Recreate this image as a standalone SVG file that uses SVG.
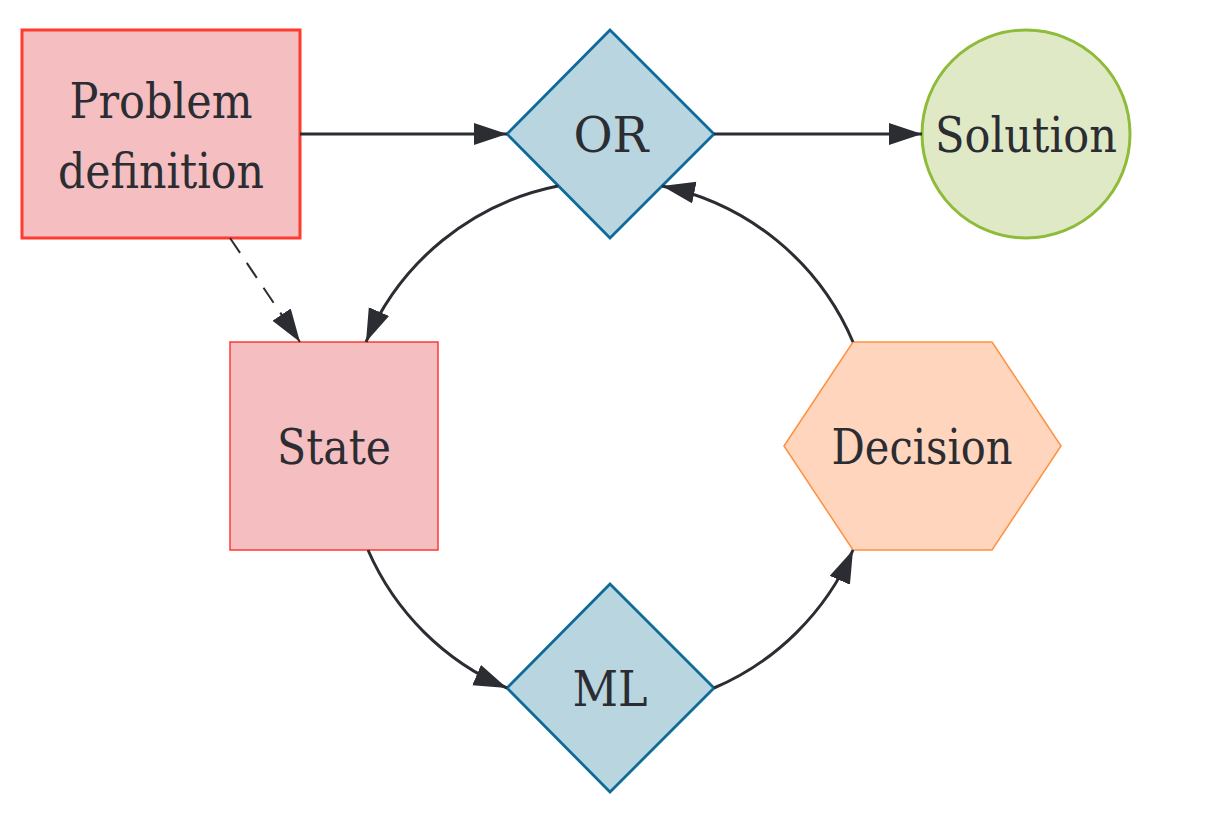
<svg xmlns="http://www.w3.org/2000/svg" width="1213" height="818" viewBox="0 0 1213 818">
<style>
.lbl{font-family:'DejaVu Serif',serif;font-size:48px;fill:#2b2d33;text-anchor:middle}
.edge{fill:none;stroke:#2b2d33;stroke-width:3}
.dash{stroke-dasharray:18 12;stroke-width:2}
.red{fill:#f5bec0;stroke:#ff3a2f}
.blue{fill:#b8d5e0;stroke:#0e6a9a;stroke-width:2.8}
</style>
<defs>
<marker id="ah" markerUnits="userSpaceOnUse" markerWidth="35" markerHeight="24" refX="33" refY="11" orient="auto" viewBox="0 0 35 24">
<path d="M0,0 L33,11 L0,22 z" fill="#2b2d33"/>
</marker>
</defs>
<rect width="1213" height="818" fill="#ffffff"/>
<g id="problem">
<rect class="red" x="22" y="30" width="278" height="208" stroke-width="3"/>
<text class="lbl" x="161" y="118" textLength="183" lengthAdjust="spacingAndGlyphs">Problem</text>
<text class="lbl" x="161" y="188" textLength="206" lengthAdjust="spacingAndGlyphs">definition</text>
</g>
<g id="or">
<polygon class="blue" points="610,30 714,134 610,238 507,134"/>
<text class="lbl" x="611" y="152" textLength="75" lengthAdjust="spacingAndGlyphs">OR</text>
</g>
<g id="solution">
<circle cx="1026" cy="134" r="104" fill="#e0e9c5" stroke="#8fbb3a" stroke-width="3"/>
<text class="lbl" x="1026" y="152" textLength="182" lengthAdjust="spacingAndGlyphs">Solution</text>
</g>
<g id="state">
<rect class="red" x="230" y="342" width="208" height="208" stroke-width="1.5"/>
<text class="lbl" x="334" y="464" textLength="114" lengthAdjust="spacingAndGlyphs">State</text>
</g>
<g id="decision">
<polygon points="784,446 853,342 992,342 1061,446 992,550 853,550" fill="#ffd5bd" stroke="#ff9040" stroke-width="1.5"/>
<text class="lbl" x="922" y="464" textLength="181" lengthAdjust="spacingAndGlyphs">Decision</text>
</g>
<g id="ml">
<polygon class="blue" points="610,584 714,688 610,792 507,688"/>
<text class="lbl" x="610" y="706" textLength="75" lengthAdjust="spacingAndGlyphs">ML</text>
</g>
<g id="connectors">
<path class="edge" d="M300,134 L507,134" marker-end="url(#ah)"/>
<path class="edge" d="M714,134 L922,134" marker-end="url(#ah)"/>
<path class="edge dash" d="M230,238 L300,342" marker-end="url(#ah)"/>
<path class="edge" d="M558,186 A265,265 0 0 0 366,342" marker-end="url(#ah)"/>
<path class="edge" d="M368,550 A265,265 0 0 0 507,688" marker-end="url(#ah)"/>
<path class="edge" d="M714,688 A265,265 0 0 0 853,550" marker-end="url(#ah)"/>
<path class="edge" d="M853,342 A265,265 0 0 0 662,186" marker-end="url(#ah)"/>
</g>
</svg>
